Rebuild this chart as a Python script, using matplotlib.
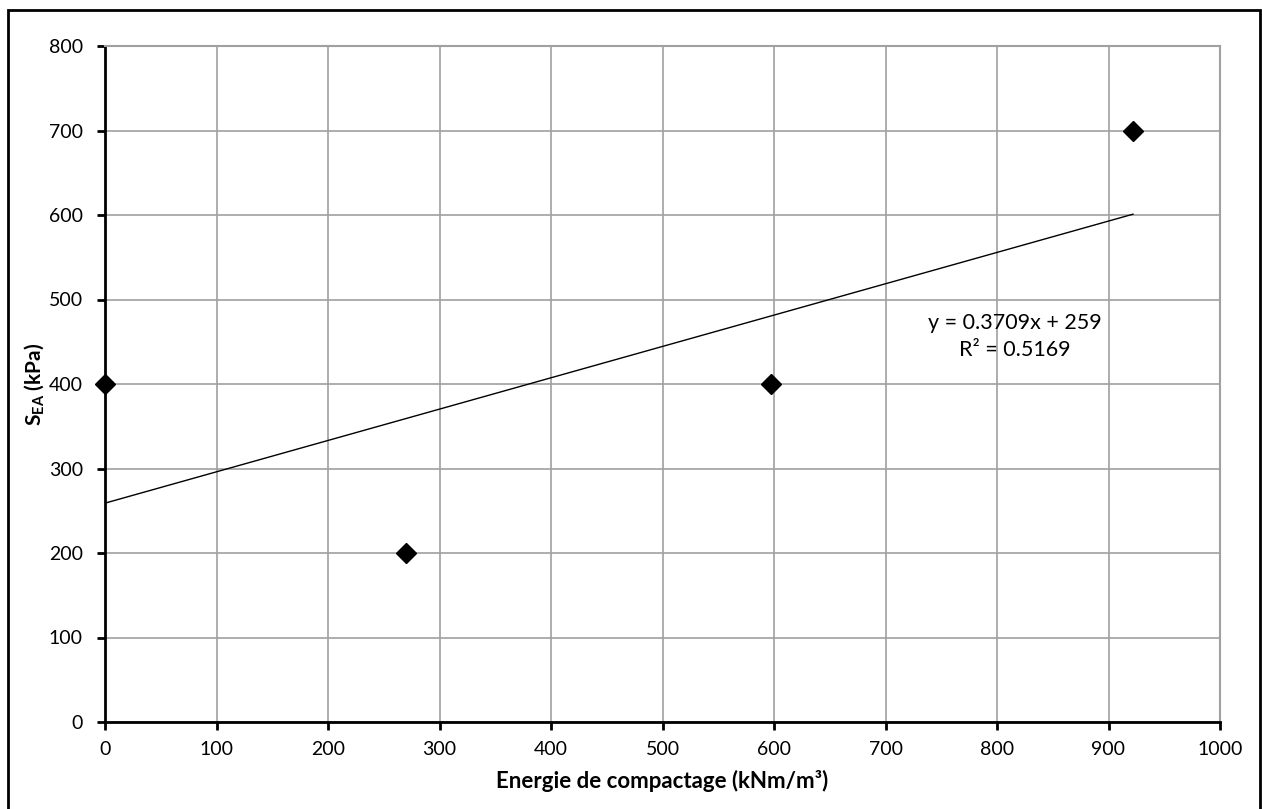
import matplotlib
matplotlib.use("Agg")
import matplotlib.pyplot as plt
from matplotlib.patches import Rectangle

# energie de compactage (kNm/m3) vs S_EA (kPa)
energie = [0, 270, 597, 922]
s_ea = [400, 200, 400, 700]

# trend line given by the chart
pente = 0.3709
ordonnee = 259
r2 = 0.5169

xticks = list(range(0, 1001, 100))
yticks = list(range(0, 801, 100))

plt.rcParams['font.family'] = ['Lato', 'DejaVu Sans']
plt.rcParams['mathtext.fontset'] = 'custom'
plt.rcParams['mathtext.rm'] = 'Lato'
plt.rcParams['mathtext.bf'] = 'Lato:bold'

fig = plt.figure(figsize=(12.62, 8.09), dpi=100)
ax = fig.add_axes([105 / 1262, 1 - 722 / 809, 1115 / 1262, 676 / 809])

# ---- trend line ----
x_fit = [min(energie), max(energie)]
y_fit = [pente * x + ordonnee for x in x_fit]
ax.plot(x_fit, y_fit, color='black', linewidth=1, zorder=3)

# ---- points ----
ax.plot(energie, s_ea, linestyle='none', marker='D', markersize=10,
        color='black', zorder=4, clip_on=False)

ax.set_xlim(0, 1000)
ax.set_ylim(0, 800)
ax.set_xticks(xticks)
ax.set_yticks(yticks)
ax.grid(True, color='#a0a0a0', linewidth=1.2)
ax.set_axisbelow(True)

for side in ['top', 'right']:
    ax.spines[side].set_color('#a0a0a0')
    ax.spines[side].set_linewidth(1.5)
for side in ['left', 'bottom']:
    ax.spines[side].set_color('black')
    ax.spines[side].set_linewidth(2)

ax.tick_params(direction='out', length=6, width=2, labelsize=14, pad=8)
ax.tick_params(axis='y', pad=10)

ax.set_xlabel('Energie de compactage (kNm/m³)', fontsize=16, fontweight='bold', labelpad=8)
ax.set_ylabel(r'$\mathbf{S_{EA}}$ (kPa)', fontsize=15, fontweight='bold', labelpad=2)

ax.text(816, 472, 'y = %.4fx + %d' % (pente, ordonnee), fontsize=15.5,
        ha='center', va='center')
ax.text(816, 440, 'R² = %.4f' % r2, fontsize=15.5, ha='center', va='center')

# outer frame of the chart
fig.patches.append(Rectangle((8 / 1262, -0.05), 1252 / 1262, 1.05 - 10 / 809,
                             transform=fig.transFigure, fill=False,
                             edgecolor='black', linewidth=2, clip_on=False))

fig.savefig('out.png', dpi=100)
